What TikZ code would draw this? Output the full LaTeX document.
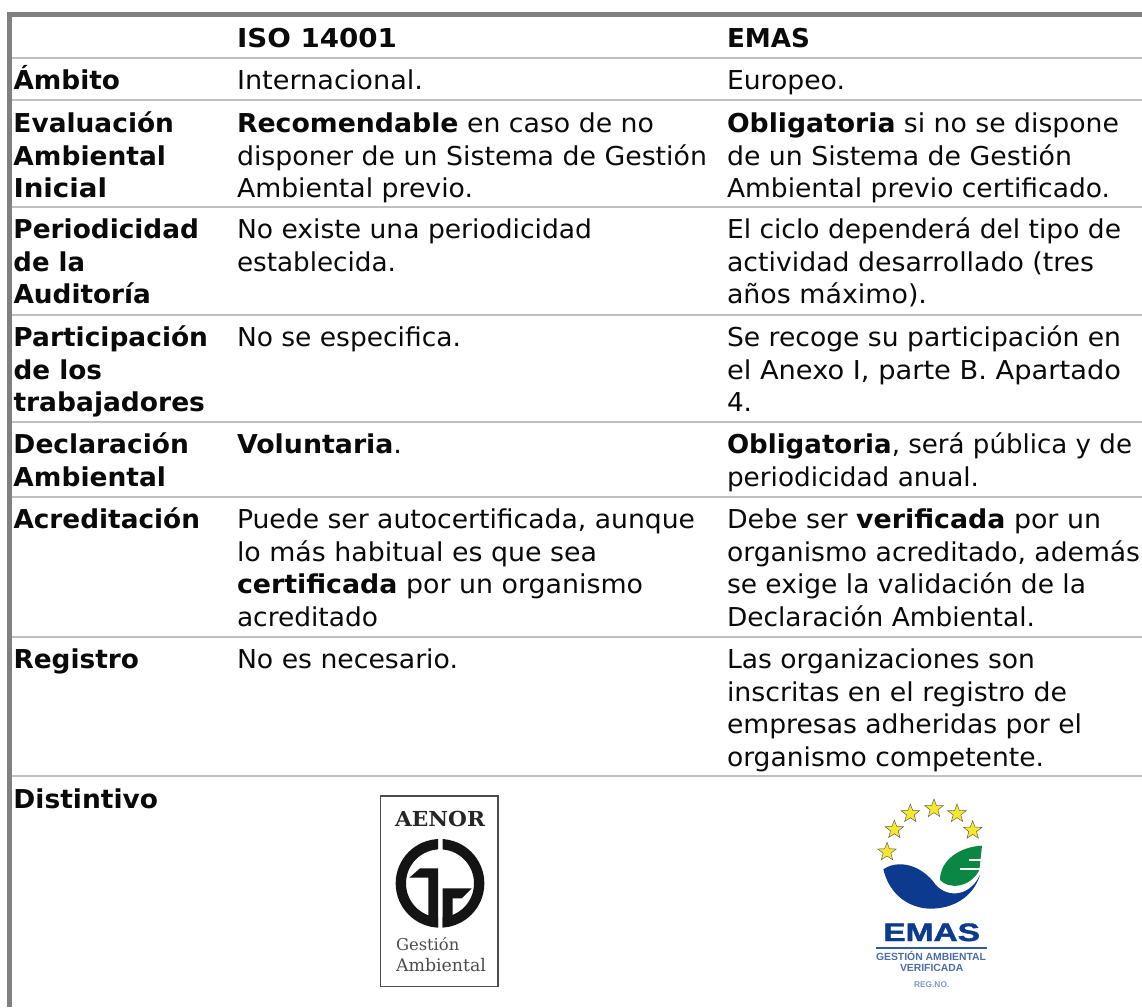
\documentclass[tikz,border=0pt]{standalone}
\usepackage{fontspec}
\usetikzlibrary{shapes.geometric}
\setmainfont{DejaVu Sans}
\newfontfamily\logoserif{DejaVu Serif}
\newfontfamily\logosans{Liberation Sans}
\newfontfamily\logoheavy[UprightFont=* Bold,FakeBold=1.5]{Liberation Sans}
\definecolor{barc}{HTML}{808080}
\definecolor{rulec}{HTML}{C0C0C0}
\definecolor{emasblue}{HTML}{0B3A8E}
\definecolor{emasgreen}{HTML}{0B8744}
\definecolor{emaspale}{HTML}{4C6CA8}
\definecolor{starc}{HTML}{F7E92A}
\tikzset{
 tx/.style={anchor=base west,inner sep=0pt,outer sep=0pt,text=black!96,font=\fontsize{19.5}{24}\selectfont},
 bar/.style={fill=barc,draw=none},
 rowrule/.style={draw=rulec,line width=1.4pt},
 emasstar/.style={star,star points=5,star point ratio=2.4,minimum size=14.5pt,inner sep=0pt,fill=starc,draw=black!65,line width=.35pt},
 logotx/.style={anchor=base west,inner sep=0pt,outer sep=0pt},
}
% name, x, baseline y, right end x, text
\newcommand\rw[5]{\pgfmathsetlengthmacro\rwlen{(#4-#2+1)*0.75}\node[tx] (#1) at (#2,#3) {\resizebox{\rwlen}{\height}{#5}};}
\begin{document}
\begin{tikzpicture}[x=0.75pt,y=-0.75pt]
\useasboundingbox (0,0) rectangle (1142,1007);
\fill[white] (0,0) rectangle (1142,1007);
% frame
\fill[bar] (7,12) rectangle (1142,17);
\fill[bar] (7,12) rectangle (12,1007);
\foreach \yy in {58,100,207,315,422,497,637,776} \draw[rowrule] (12,\yy) -- (1142,\yy);
% header
\rw{h2}{237}{47}{396}{\textbf{ISO 14001}}
\rw{h3}{727}{47}{809}{\textbf{EMAS}}
% rows
\rw{a1}{13.5}{89}{119}{\textbf{Ámbito}}
\rw{a2}{237}{89}{422}{Internacional.}
\rw{a3}{727}{89}{844}{Europeo.}
\rw{b1a}{13.5}{132}{173}{\textbf{Evaluación}}
\rw{b1b}{13.5}{165}{165}{\textbf{Ambiental}}
\rw{b1c}{13.5}{197}{106}{\textbf{Inicial}}
\rw{b2a}{237}{132}{653}{\textbf{Recomendable} en caso de no}
\rw{b2b}{237}{165}{706}{disponer de un Sistema de Gestión}
\rw{b2c}{237}{197}{472}{Ambiental previo.}
\rw{b3a}{727}{132}{1118}{\textbf{Obligatoria} si no se dispone}
\rw{b3b}{727}{165}{1071}{de un Sistema de Gestión}
\rw{b3c}{727}{197}{1109}{Ambiental previo certificado.}
\rw{c1a}{13.5}{238}{198}{\textbf{Periodicidad}}
\rw{c1b}{13.5}{271}{84}{\textbf{de la}}
\rw{c1c}{13.5}{303}{150}{\textbf{Auditoría}}
\rw{c2a}{237}{238}{591}{No existe una periodicidad}
\rw{c2b}{237}{271}{395}{establecida.}
\rw{c3a}{727}{238}{1120}{El ciclo dependerá del tipo de}
\rw{c3b}{727}{271}{1093}{actividad desarrollado (tres}
\rw{c3c}{727}{303}{926}{años máximo).}
\rw{d1a}{13.5}{346}{207}{\textbf{Participación}}
\rw{d1b}{13.5}{379}{101}{\textbf{de los}}
\rw{d1c}{13.5}{411}{204}{\textbf{trabajadores}}
\rw{d2a}{237}{346}{460}{No se especifica.}
\rw{d3a}{727}{346}{1120}{Se recoge su participación en}
\rw{d3b}{727}{379}{1120}{el Anexo I, parte B. Apartado}
\rw{d3c}{727}{411}{751}{4.}
\rw{e1a}{13.5}{453}{188}{\textbf{Declaración}}
\rw{e1b}{13.5}{486}{165}{\textbf{Ambiental}}
\rw{e2a}{237}{453}{401}{\textbf{Voluntaria}.}
\rw{e3a}{727}{453}{1131}{\textbf{Obligatoria}, será pública y de}
\rw{e3b}{727}{486}{978}{periodicidad anual.}
\rw{f1a}{13.5}{528}{199}{\textbf{Acreditación}}
\rw{f2a}{237}{528}{694}{Puede ser autocertificada, aunque}
\rw{f2b}{237}{561}{596}{lo más habitual es que sea}
\rw{f2c}{237}{593}{642}{\textbf{certificada} por un organismo}
\rw{f2d}{237}{626}{377}{acreditado}
\rw{f3a}{727}{528}{1100}{Debe ser \textbf{verificada} por un}
\rw{f3b}{727}{561}{1139}{organismo acreditado, además}
\rw{f3c}{727}{593}{1085}{se exige la validación de la}
\rw{f3d}{727}{626}{1034}{Declaración Ambiental.}
\rw{g1a}{13.5}{668}{138}{\textbf{Registro}}
\rw{g2a}{237}{668}{457}{No es necesario.}
\rw{g3a}{727}{668}{1034}{Las organizaciones son}
\rw{g3b}{727}{701}{1066}{inscritas en el registro de}
\rw{g3c}{727}{733}{1081}{empresas adheridas por el}
\rw{g3d}{727}{766}{1043}{organismo competente.}
\rw{i1a}{13.5}{808}{157}{\textbf{Distintivo}}
% AENOR logo, drawn in 3x zoom coordinates
\begin{scope}[shift={(340,780)},x=0.25pt,y=-0.25pt]
\draw[black!70,line width=1.1pt] (122,48) rectangle (474,620);
\node[logotx,text=black!85] (aen) at (165,138) {\resizebox{67.5pt}{11.5pt}{\logoserif\bfseries AENOR}};
\begin{scope}
\clip (100,100) rectangle (294,500);
\fill[black!92,even odd rule] (300,310) circle[radius=133] (300,310) circle[radius=102];
\end{scope}
\begin{scope}
\clip (308,100) rectangle (500,500);
\fill[black!92,even odd rule] (300,310) circle[radius=133] (300,310) circle[radius=102];
\end{scope}
\fill[black!92] (294,265) -- (240,265) -- (208,293) -- (265,293) -- (265,410) -- (294,442) -- cycle;
\fill[black!92] (308,325) -- (395,325) -- (365,355) -- (338,355) -- (338,410) -- (308,442) -- cycle;
\node[logotx,text=black!70] (ges) at (168,512) {\resizebox{47.5pt}{!}{\logoserif Gestión}};
\node[logotx,text=black!70] (amb) at (168,573) {\resizebox{67.5pt}{!}{\logoserif Ambiental}};
\end{scope}
% EMAS logo, drawn in 3x zoom coordinates
\begin{scope}[shift={(840,780)},x=0.25pt,y=-0.25pt]
\node[emasstar] (s1) at (141,216) {};
\node[emasstar] (s2) at (163,149) {};
\node[emasstar] (s3) at (211,101) {};
\node[emasstar] (s4) at (282,86) {};
\node[emasstar] (s5) at (351,101) {};
\node[emasstar] (s6) at (398,151) {};
\fill[emasgreen] (426,197) .. controls (360,200) and (300,240) .. (300,300)
  .. controls (325,328) and (390,325) .. (418,270) -- cycle;
\fill[white] (386,236) rectangle (428,244);
\fill[white] (360,264) rectangle (424,271);
\fill[emasblue] (130,268) .. controls (170,240) and (235,250) .. (280,305)
  .. controls (310,352) and (385,358) .. (420,285)
  .. controls (400,350) and (340,388) .. (265,386)
  .. controls (190,380) and (145,330) .. (130,268) -- cycle;
\node[logotx,text=emasblue] (em) at (130,483) {\resizebox{72.5pt}{13.2pt}{\logoheavy EMAS}};
\fill[emasblue!85] (108,500) rectangle (441,508);
\node[logotx,text=emaspale] (gam) at (108,542) {\resizebox{82.5pt}{!}{\logosans\bfseries GESTIÓN AMBIENTAL}};
\node[logotx,text=emaspale] (ver) at (180,575) {\resizebox{47.5pt}{!}{\logosans\bfseries VERIFICADA}};
\node[logotx,text=emaspale!70] (reg) at (222,623) {\resizebox{26.5pt}{!}{\logosans\bfseries REG.NO.}};
\end{scope}
\end{tikzpicture}
\end{document}
